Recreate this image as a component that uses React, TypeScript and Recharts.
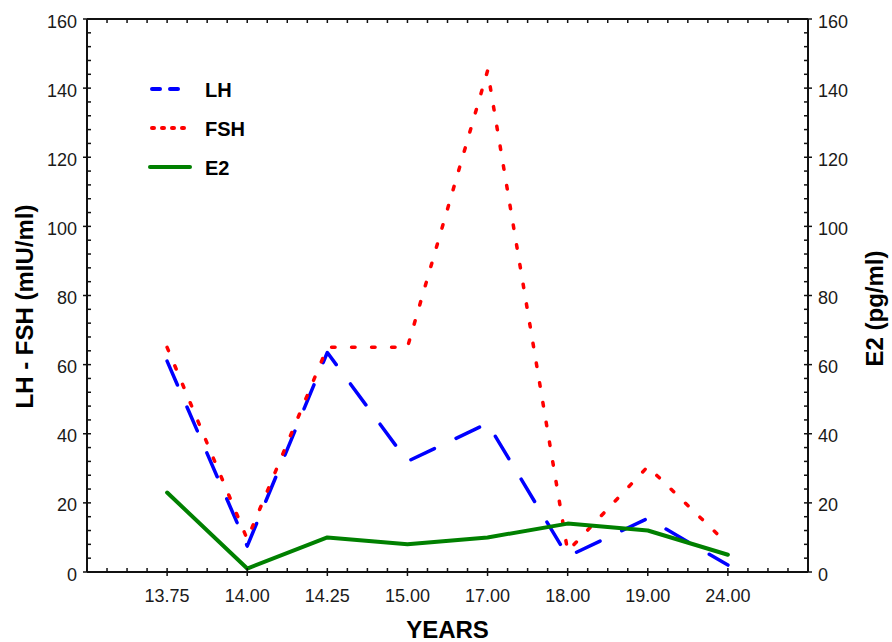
import React from 'react';
import { LineChart, Line, XAxis, YAxis, Legend } from 'recharts';

// category labels on the x axis (ages in years)
const years = ['13.75', '14.00', '14.25', '15.00', '17.00', '18.00', '19.00', '24.00'];

// hormone levels
const lhValues = [61, 7.5, 63.5, 32, 43, 4.5, 15.5, 2];
const fshValues = [65, 9.5, 65, 65, 145, 6, 30.5, 8];
const e2Values = [23, 1, 10, 8, 10, 14, 12, 5];

// axis ticks: minor every quarter category / every 4 units
const xTicks = Array.from({ length: 37 }, (_, i) => i / 4);
const yTicks = Array.from({ length: 41 }, (_, i) => i * 4);

const FONT = '"Liberation Sans", Arial, sans-serif';
const INK = '#111';

const data = years.map((year, i) => ({
  x: i + 1,
  year,
  lh: lhValues[i],
  fsh: fshValues[i],
  e2: e2Values[i],
}));

const LeftTick = (props: any) => {
  const { x, y, payload } = props;
  const major = payload.value % 20 === 0;
  return (
    <g>
      <line x1={major ? x - 4 : x} x2={x + 4} y1={y} y2={y} stroke={INK} strokeWidth={1.5} />
      {major && (
        <text x={x - 10} y={y + 8.5} textAnchor="end" fontSize={18} fontFamily={FONT} fill="#1a1a1a">
          {payload.value}
        </text>
      )}
    </g>
  );
};

const RightTick = (props: any) => {
  const { x, y, payload } = props;
  const major = payload.value % 20 === 0;
  return (
    <g>
      <line x1={x - 4} x2={major ? x + 4 : x} y1={y} y2={y} stroke={INK} strokeWidth={1.5} />
      {major && (
        <text x={x + 10} y={y + 8.5} textAnchor="start" fontSize={18} fontFamily={FONT} fill="#1a1a1a">
          {payload.value}
        </text>
      )}
    </g>
  );
};

const BottomTick = (props: any) => {
  const { x, y, payload } = props;
  const v = payload.value;
  const labelled = Number.isInteger(v) && v >= 1 && v <= years.length;
  return (
    <g>
      <line x1={x} x2={x} y1={y - 4} y2={labelled ? y + 4 : y} stroke={INK} strokeWidth={1.5} />
      {labelled && (
        <text x={x} y={y + 30} textAnchor="middle" fontSize={18} fontFamily={FONT} fill="#1a1a1a">
          {years[v - 1]}
        </text>
      )}
    </g>
  );
};

const TopTick = (props: any) => {
  const { x, y } = props;
  return <line x1={x} x2={x} y1={y} y2={y + 4} stroke={INK} strokeWidth={1.5} />;
};

const leftTitle = (props: any) => {
  const vb = props.viewBox;
  const cx = vb.x + 33;
  const cy = vb.y + vb.height / 2 + 11;
  return (
    <text x={cx} y={cy} transform={`rotate(-90 ${cx} ${cy})`} textAnchor="middle"
      fontSize={24} fontWeight="bold" fontFamily={FONT} fill="#000">
      LH - FSH (mIU/ml)
    </text>
  );
};

const rightTitle = (props: any) => {
  const vb = props.viewBox;
  const cx = vb.x + 75;
  const cy = vb.y + vb.height / 2 + 13;
  return (
    <text x={cx} y={cy} transform={`rotate(-90 ${cx} ${cy})`} textAnchor="middle"
      fontSize={24} fontWeight="bold" fontFamily={FONT} fill="#000">
      E2 (pg/ml)
    </text>
  );
};

const bottomTitle = (props: any) => {
  const vb = props.viewBox;
  return (
    <text x={vb.x + vb.width / 2} y={vb.y + 66} textAnchor="middle"
      fontSize={24} fontWeight="bold" fontFamily={FONT} fill="#000">
      YEARS
    </text>
  );
};

const series = [
  { key: 'lh', name: 'LH', color: '#0000ff', dash: '26 24', legendDash: '8 10', width: 3.5, xAxis: 'bottom', axis: 'left' },
  { key: 'fsh', name: 'FSH', color: '#ff0000', dash: '3.5 16.5', legendDash: '2 8', width: 3.5, xAxis: 'bottom', axis: 'left' },
  { key: 'e2', name: 'E2', color: '#008000', dash: undefined, legendDash: undefined, width: 4, xAxis: 'top', axis: 'right' },
];

const renderLegend = () => (
  <svg width={130} height={120}>
    {series.map((s, i) => {
      const cy = 19 + i * 39;
      const solid = !s.legendDash;
      return (
        <g key={s.key}>
          <line x1={solid ? 10 : 12} x2={solid ? 50 : 44} y1={cy} y2={cy} stroke={s.color}
            strokeWidth={4} strokeDasharray={s.legendDash} strokeLinecap="round" />
          <text x={65} y={cy + 8} fontSize={20} fontWeight="bold" fontFamily={FONT} fill="#000">
            {s.name}
          </text>
        </g>
      );
    })}
  </svg>
);

export default function App() {
  return (
    <div style={{ position: 'absolute', left: 0, top: 0, background: '#fff' }}>
      <LineChart width={892} height={642} data={data} margin={{ top: 0, right: 0, bottom: 0, left: 0 }}>
        <XAxis xAxisId="bottom" dataKey="x" type="number" domain={[0, 9]} allowDataOverflow
          ticks={xTicks} interval={0} tickSize={0} tickMargin={0} height={70} tick={<BottomTick />}
          axisLine={{ stroke: INK, strokeWidth: 2 }} tickLine={false} label={bottomTitle} />
        <XAxis xAxisId="top" orientation="top" dataKey="x" type="number" domain={[0, 9]}
          allowDataOverflow ticks={xTicks} interval={0} tickSize={0} tickMargin={0} height={19}
          tick={<TopTick />} axisLine={{ stroke: INK, strokeWidth: 2 }} tickLine={false} />
        <YAxis yAxisId="left" domain={[0, 160]} ticks={yTicks} interval={0} width={87}
          tickSize={0} tickMargin={0} tick={<LeftTick />} tickLine={false}
          axisLine={{ stroke: INK, strokeWidth: 2 }} label={leftTitle} />
        <YAxis yAxisId="right" orientation="right" domain={[0, 160]} ticks={yTicks} interval={0}
          width={84} tickSize={0} tickMargin={0} tick={<RightTick />} tickLine={false}
          axisLine={{ stroke: INK, strokeWidth: 2 }} label={rightTitle} />
        <Legend layout="vertical" align="center" verticalAlign="middle" content={renderLegend}
          wrapperStyle={{ left: 140, top: 70, width: 130, height: 120 }} />
        {series.map((s) => (
          <Line key={s.key} xAxisId={s.xAxis} yAxisId={s.axis} type="linear" dataKey={s.key}
            name={s.name} stroke={s.color} strokeWidth={s.width} strokeDasharray={s.dash}
            strokeLinecap="round" strokeLinejoin="round" dot={false} activeDot={false}
            isAnimationActive={false} />
        ))}
      </LineChart>
    </div>
  );
}
